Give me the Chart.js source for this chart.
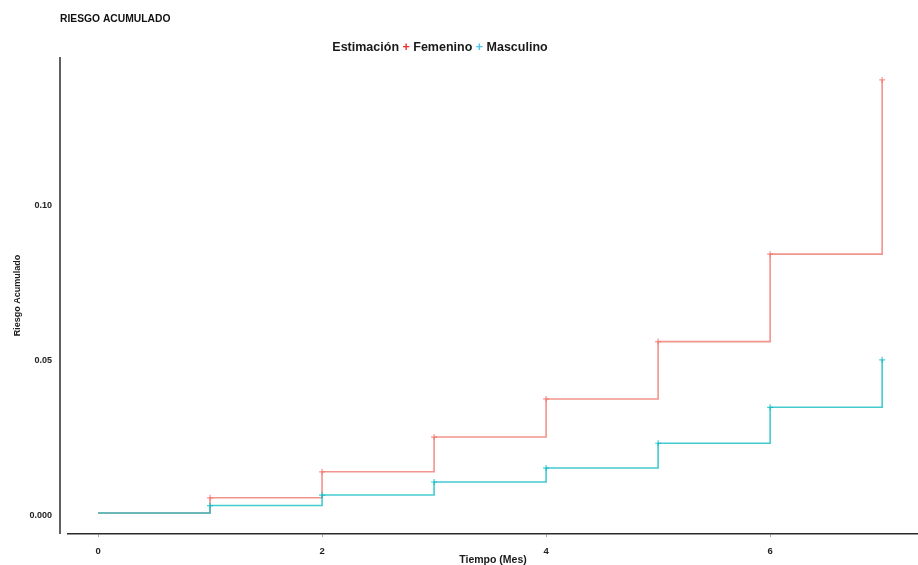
<!DOCTYPE html>
<html>
<head>
<meta charset="utf-8">
<script src="https://cdn.jsdelivr.net/npm/chart.js@4/dist/chart.umd.min.js"></script>
<style>
  html, body { margin: 0; padding: 0; background: #fff; }
</style>
</head>
<body>
<canvas id="chart" width="918" height="565"></canvas>
<script>
const tiempo = [0, 1, 2, 3, 4, 5, 6, 7]
const femenino = [0, 0.0049, 0.0133, 0.0245, 0.0368, 0.0553, 0.0835, 0.1397]
const masculino = [0, 0.0024, 0.0058, 0.0100, 0.0145, 0.0225, 0.0341, 0.0494]
const xTicks = [0, 2, 4, 6]
const yTicks = [0, 0.05, 0.10]
const yTickLabels = ['0.000', '0.05', '0.10']

const font = 'Liberation Sans, Arial, sans-serif'

function toPoints(values) {
  return tiempo.map((t, i) => ({x: t, y: values[i]}))
}

// no marker at time 0, a small cross on every later step
const markerRadius = tiempo.map(t => (t === 0 ? 0 : 3))

const frame = {
  id: 'frame',
  beforeDatasetsDraw(chart) {
    const {ctx, chartArea} = chart
    ctx.save()
    ctx.strokeStyle = '#2b2b2b'
    ctx.lineWidth = 1.5
    ctx.beginPath()
    ctx.moveTo(chartArea.left - 8, chartArea.top)
    ctx.lineTo(chartArea.left - 8, chartArea.bottom)
    ctx.stroke()
    ctx.restore()
  },
  afterDraw(chart) {
    const c = chart.ctx
    c.save()
    c.textBaseline = 'middle'
    c.fillStyle = '#111'
    c.font = 'bold 10.3px ' + font
    c.fillText('RIESGO ACUMULADO', 60, 19)

    // legend line: Estimación + Femenino + Masculino
    const parts = [
      ['Estimación ', '#1a1a1a'],
      ['+ ', '#f02b2b'],
      [chart.data.datasets[0].label + ' ', '#1a1a1a'],
      ['+ ', '#4cc3ef'],
      [chart.data.datasets[1].label, '#1a1a1a']
    ]
    c.font = 'bold 12.5px ' + font
    const total = parts.reduce((w, p) => w + c.measureText(p[0]).width, 0)
    let x = 440 - total / 2
    parts.forEach(([text, color]) => {
      c.fillStyle = color
      c.fillText(text, x, 48)
      x += c.measureText(text).width
    })
    c.restore()
  }
}

new Chart(document.getElementById('chart'), {
  type: 'line',
  data: {
    datasets: [
      {
        label: 'Femenino',
        data: toPoints(femenino),
        borderColor: 'rgba(240, 120, 112, 0.8)',
        backgroundColor: 'rgba(240, 120, 112, 0.8)',
        borderWidth: 1.6,
        stepped: 'before',
        pointStyle: 'cross',
        pointRadius: markerRadius,
        pointBorderWidth: 1.2,
        order: 1
      },
      {
        label: 'Masculino',
        data: toPoints(masculino),
        borderColor: 'rgba(20, 190, 196, 0.8)',
        backgroundColor: 'rgba(20, 190, 196, 0.8)',
        borderWidth: 1.6,
        stepped: 'before',
        pointStyle: 'cross',
        pointRadius: markerRadius,
        pointBorderWidth: 1.2,
        order: 0
      }
    ]
  },
  options: {
    responsive: false,
    animation: false,
    layout: {autoPadding: false, padding: {top: 57, left: 0, right: 0, bottom: 0}},
    plugins: {
      legend: {display: false},
      title: {display: false},
      tooltip: {enabled: false}
    },
    scales: {
      x: {
        type: 'linear',
        min: -0.268,
        max: 7.32,
        afterBuildTicks: scale => { scale.ticks = xTicks.map(v => ({value: v})) },
        afterFit: scale => { scale.height = 31 },
        grid: {display: true, drawOnChartArea: false, drawTicks: true, tickLength: 3, color: '#aaa'},
        border: {display: true, color: '#2b2b2b', width: 1.5},
        ticks: {
          padding: 9,
          color: '#222',
          font: {family: font, size: 9.5, weight: 'bold'},
          maxRotation: 0,
          callback: v => String(v)
        },
        title: {
          display: true,
          text: 'Tiempo (Mes)',
          color: '#1a1a1a',
          font: {family: font, size: 10.5, weight: 'bold'},
          padding: {top: 0, bottom: -1}
        }
      },
      y: {
        type: 'linear',
        min: -0.00677,
        max: 0.1471,
        afterBuildTicks: scale => { scale.ticks = yTicks.map(v => ({value: v})) },
        afterFit: scale => { scale.width = 68 },
        grid: {display: false, drawTicks: false},
        border: {display: false},
        ticks: {
          padding: 16,
          labelOffset: 3,
          color: '#222',
          font: {family: font, size: 9, weight: 'bold'},
          callback: (v, i) => yTickLabels[i]
        },
        title: {
          display: true,
          text: 'Riesgo Acumulado',
          color: '#1a1a1a',
          font: {family: font, size: 9, weight: 'bold'},
          padding: {top: 12, bottom: 0}
        }
      }
    }
  },
  plugins: [frame]
})
</script>
</body>
</html>
